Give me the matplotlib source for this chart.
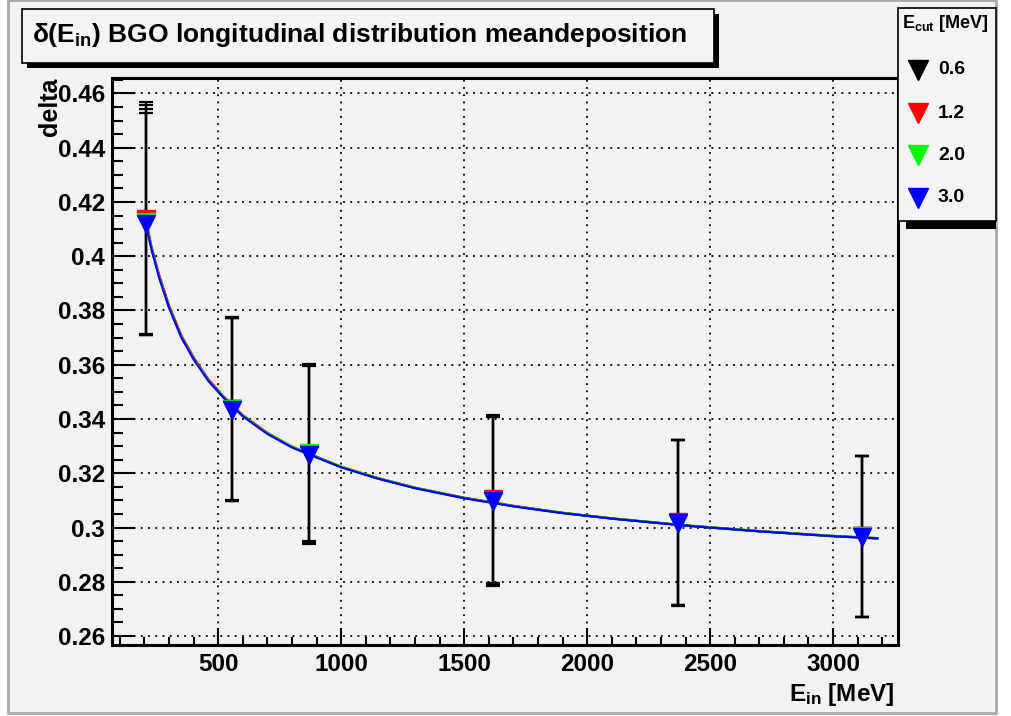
import matplotlib
matplotlib.use("Agg")
import matplotlib.pyplot as plt
from matplotlib.lines import Line2D
from matplotlib.patches import Rectangle
from matplotlib.ticker import MultipleLocator, FuncFormatter

plt.rcParams["font.family"] = ["Liberation Sans", "DejaVu Sans"]
plt.rcParams["font.weight"] = "bold"
plt.rcParams["mathtext.fontset"] = "custom"
plt.rcParams["mathtext.rm"] = "Liberation Sans:bold"
plt.rcParams["mathtext.it"] = "Liberation Sans:bold"
plt.rcParams["mathtext.bf"] = "Liberation Sans:bold"

# measured points (E_in in MeV, delta)
energy = [207, 556, 870, 1619, 2369, 3119]
delta_black = [0.4132, 0.3436, 0.3271, 0.3099, 0.3018, 0.2967]
delta_red = [0.4138, 0.3438, 0.3272, 0.3105, 0.3019, 0.2968]
delta_green = [0.4128, 0.3436, 0.3275, 0.3099, 0.3018, 0.2967]
delta_blue = [0.4120, 0.3434, 0.3268, 0.3096, 0.3016, 0.2966]

err_black = [0.0424, 0.0338, 0.0327, 0.0311, 0.0305, 0.0296]
err_red = [0.0430, 0.0337, 0.0326, 0.0309, 0.0304, 0.0296]
err_green = [0.0413, 0.0338, 0.0326, 0.0311, 0.0305, 0.0296]
err_blue = [0.0409, 0.0338, 0.0328, 0.0312, 0.0305, 0.0296]

# fitted curves
curve_x = [205, 230, 260, 300, 350, 400, 460, 520, 600, 700, 800, 900, 1000,
           1150, 1300, 1500, 1700, 1900, 2100, 2400, 2700, 3000, 3180]
curve_black = [0.4132, 0.4025, 0.3925, 0.3814, 0.3704, 0.3623, 0.3543, 0.3482,
               0.3412, 0.3347, 0.3297, 0.3260, 0.3223, 0.3181, 0.3146, 0.3109,
               0.3079, 0.3054, 0.3033, 0.3007, 0.2986, 0.2968, 0.2960]
curve_red = [0.4138, 0.4030, 0.3930, 0.3818, 0.3708, 0.3627, 0.3546, 0.3485,
             0.3414, 0.3349, 0.3298, 0.3261, 0.3224, 0.3182, 0.3147, 0.3110,
             0.3080, 0.3054, 0.3034, 0.3008, 0.2987, 0.2969, 0.2961]
curve_green = [0.4128, 0.4024, 0.3923, 0.3812, 0.3702, 0.3622, 0.3542, 0.3482,
               0.3412, 0.3347, 0.3297, 0.3260, 0.3224, 0.3182, 0.3147, 0.3109,
               0.3079, 0.3054, 0.3034, 0.3008, 0.2987, 0.2969, 0.2961]
curve_blue = [0.4120, 0.4020, 0.3920, 0.3810, 0.3700, 0.3620, 0.3540, 0.3480,
              0.3410, 0.3345, 0.3295, 0.3258, 0.3222, 0.3180, 0.3145, 0.3108,
              0.3078, 0.3053, 0.3033, 0.3007, 0.2986, 0.2968, 0.2960]

cut_labels = ["0.6", "1.2", "2.0", "3.0"]
colors = ["#000000", "#ff0000", "#00ff00", "#0000ff"]

W, H = 1011, 716
BG = "#f2f2f2"

fig = plt.figure(figsize=(W / 100, H / 100), dpi=100)
fig.patch.set_facecolor("white")


def fx(x):
    return x / W


def fy(y):
    return 1 - y / H


def box(x0, y0, x1, y1, **kw):
    fig.add_artist(Rectangle((fx(x0), fy(y1)), (x1 - x0) / W, (y1 - y0) / H,
                             transform=fig.transFigure, **kw))


# canvas
box(8, 0, 996, 713, facecolor=BG, edgecolor="#a8a8a8", linewidth=2, zorder=-2)

ax = fig.add_axes([fx(112), fy(645), (898 - 112) / W, (645 - 78) / H])
ax.set_facecolor(BG)
ax.set_xlim(68, 3264)
ax.set_ylim(0.2567, 0.4657)

series = [
    (delta_black, err_black, curve_black),
    (delta_red, err_red, curve_red),
    (delta_green, err_green, curve_green),
    (delta_blue, err_blue, curve_blue),
]
for (vals, errs, curve), color in zip(series, colors):
    ax.errorbar(energy, vals, yerr=errs, fmt="none", ecolor="black",
                elinewidth=1.6, capsize=5, capthick=1.6, zorder=2)
for (vals, errs, curve), color in zip(series, colors):
    ax.plot(curve_x, curve, color=color, lw=1.6, zorder=3)
for (vals, errs, curve), color in zip(series, colors):
    ax.plot(energy, vals, "v", color=color, ms=13, mec=color, zorder=4)

ax.xaxis.set_major_locator(MultipleLocator(500))
ax.xaxis.set_minor_locator(MultipleLocator(100))
ax.yaxis.set_major_locator(MultipleLocator(0.02))
ax.yaxis.set_minor_locator(MultipleLocator(0.005))
ax.yaxis.set_major_formatter(FuncFormatter(lambda v, p: format(round(v, 2), "g")))
ax.xaxis.set_major_formatter(FuncFormatter(lambda v, p: "%d" % v))

ax.grid(True, which="major", color="black", linestyle=(0, (1, 3)), lw=1.3)
ax.set_axisbelow(True)
ax.tick_params(which="both", direction="in", top=False, right=False,
               labelsize=17.5, width=1.5, colors="black")
ax.tick_params(axis="y", which="major", length=16.5, pad=5)
ax.tick_params(axis="y", which="minor", length=8)
ax.tick_params(axis="x", which="major", length=12, pad=6)
ax.tick_params(axis="x", which="minor", length=6)
for lab in ax.get_xticklabels() + ax.get_yticklabels():
    lab.set_fontweight("bold")
for sp in ax.spines.values():
    sp.set_linewidth(2.2)

fig.text(fx(895), fy(694), "E$_{in}$ [MeV]", ha="right", va="center",
         fontsize=17.5, fontweight="bold")
fig.text(fx(50), fy(78), "delta", ha="center", va="top", rotation=90,
         fontsize=18, fontweight="bold")

# title box with shadow
box(27, 14, 719, 68, facecolor="black", zorder=5)
box(22, 9, 714, 63, facecolor="#f4f4f4", edgecolor="black", linewidth=1.2, zorder=6)
fig.text(fx(32), fy(35), "\u03b4(E$_{in}$) BGO longitudinal distribution meandeposition",
         ha="left", va="center", fontsize=19, fontweight="bold", zorder=7)

# legend box with shadow
box(906, 14, 996, 229, facecolor="black", zorder=5)
box(898, 8, 996, 221, facecolor="#f4f4f4", edgecolor="black", linewidth=1.2, zorder=6)
fig.text(fx(902), fy(24), "E$_{cut}$ [MeV]", ha="left", va="center",
         fontsize=13, fontweight="bold", zorder=7)
legend_rows = [70, 113, 155, 198]
for label, color, row in zip(cut_labels, colors, legend_rows):
    fig.add_artist(Line2D([fx(918)], [fy(row)], marker="v", ms=15, color=color,
                          mec=color, linestyle="none", transform=fig.transFigure,
                          zorder=7))
    fig.text(fx(938), fy(row), label, ha="left", va="center",
             fontsize=14, fontweight="bold", zorder=7)

fig.savefig("out.png", dpi=100, facecolor=fig.get_facecolor())
